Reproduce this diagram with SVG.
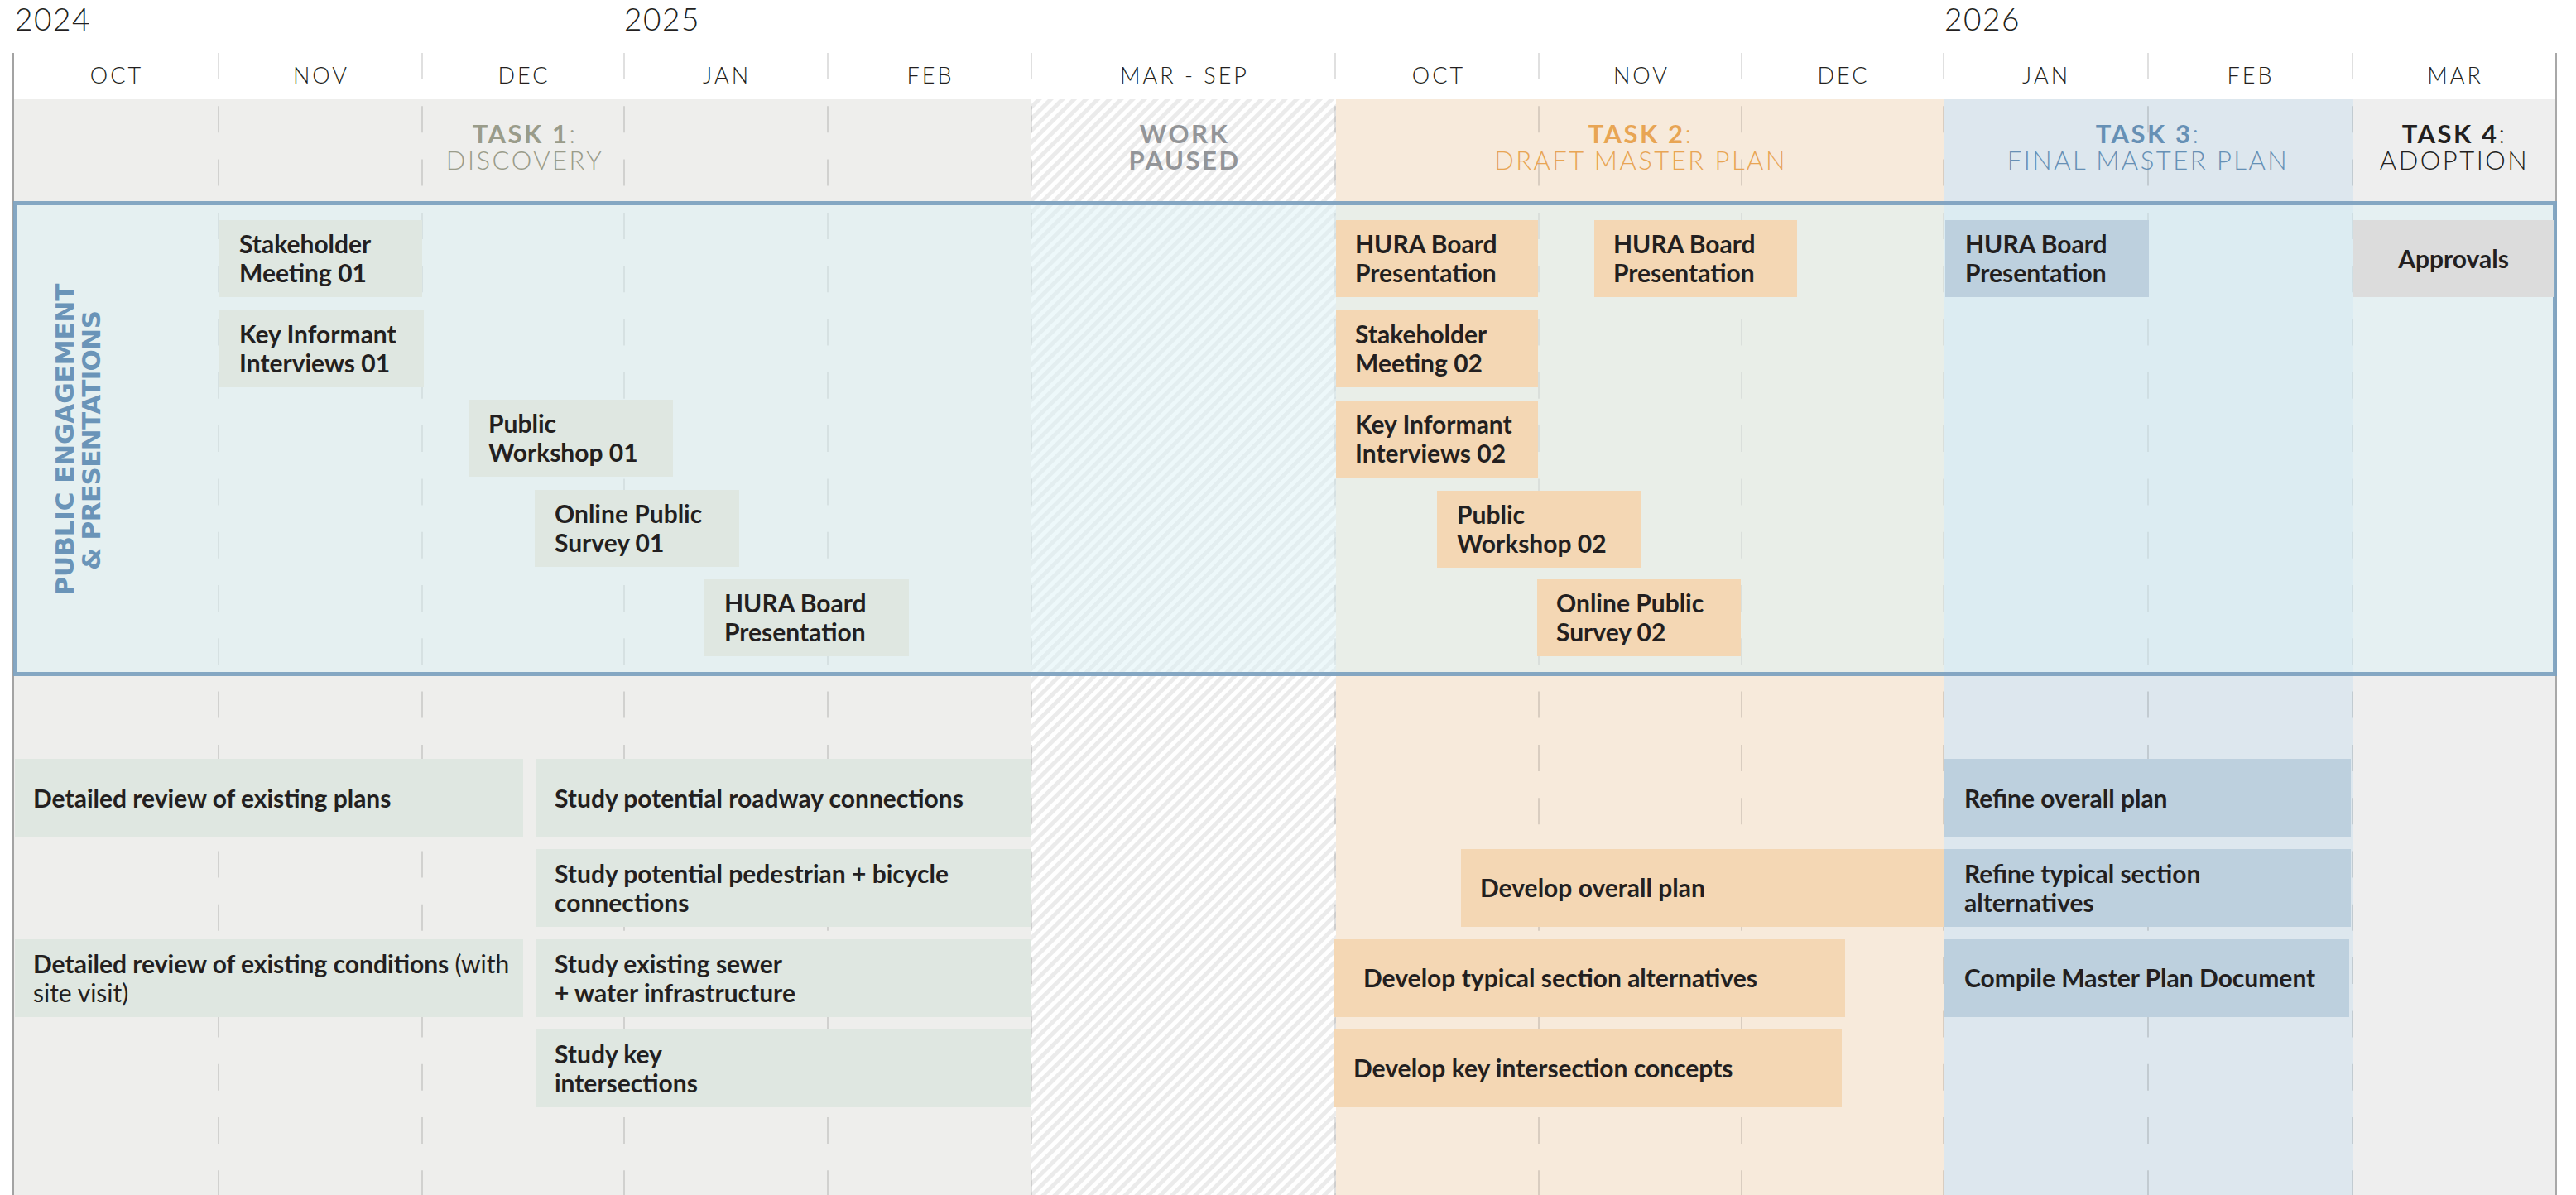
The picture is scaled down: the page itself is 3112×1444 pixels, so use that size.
<svg xmlns="http://www.w3.org/2000/svg" width="3112" height="1444" viewBox="0 0 3112 1444">
<defs>
<pattern id="hatch" width="10" height="10" patternUnits="userSpaceOnUse" patternTransform="rotate(45)">
<rect width="10" height="10" fill="#ffffff"/>
<rect width="5" height="10" fill="#ebebeb"/>
</pattern>
<style>
.yr{font-family:Lato,"Liberation Sans",sans-serif;font-weight:300;font-size:37px;fill:#231f20;letter-spacing:1.5px}
.mo{font-family:Lato,"Liberation Sans",sans-serif;font-weight:300;font-size:27px;fill:#231f20;letter-spacing:3px;text-anchor:middle}
.tk{font-family:Lato,"Liberation Sans",sans-serif;font-size:31px;letter-spacing:2.5px;text-anchor:middle;font-weight:300}
.tk .b{font-weight:700}
.sep{stroke:#000;stroke-opacity:0.12;stroke-width:2;stroke-dasharray:32 32.3}
.nt{font-family:Lato,"Liberation Sans",sans-serif;font-weight:700;font-size:30px;fill:#231f20}
.nt .r{font-weight:400}
.t1{fill:#dfe7e1}
.t2{fill:#f4d7b4}
.t3{fill:#bdd0de}
.t4{fill:#dcdcdc}
.lbl{font-family:"DejaVu Sans","Open Sans",sans-serif;font-weight:700;font-size:31px;fill:#6a94b8;text-anchor:middle}
</style>
</defs>

<!-- backgrounds -->
<rect x="0" y="0" width="3112" height="1444" fill="#ffffff"/>
<rect x="16" y="120" width="1230" height="1324" fill="#eeeeec"/>
<rect x="1246" y="120" width="368" height="1324" fill="url(#hatch)"/>
<rect x="1614" y="120" width="734" height="1324" fill="#f7eadb"/>
<rect x="2348" y="120" width="494" height="1324" fill="#dde7ee"/>
<rect x="2842" y="120" width="246" height="1324" fill="#eeeeee"/>

<!-- month separators -->
<g id="separators">
<line class="sep" x1="264" y1="64" x2="264" y2="1444"/>
<line class="sep" x1="510" y1="64" x2="510" y2="1444"/>
<line class="sep" x1="754" y1="64" x2="754" y2="1444"/>
<line class="sep" x1="1000" y1="64" x2="1000" y2="1444"/>
<line class="sep" x1="1246" y1="64" x2="1246" y2="1444"/>
<line class="sep" x1="1613" y1="64" x2="1613" y2="1444"/>
<line class="sep" x1="1859" y1="64" x2="1859" y2="1444"/>
<line class="sep" x1="2104" y1="64" x2="2104" y2="1444"/>
<line class="sep" x1="2348" y1="64" x2="2348" y2="1444"/>
<line class="sep" x1="2595" y1="64" x2="2595" y2="1444"/>
<line class="sep" x1="2842" y1="64" x2="2842" y2="1444"/>
<line x1="16" y1="64" x2="16" y2="1444" stroke="#a3a3a3" stroke-width="2"/>
<line x1="3088" y1="64" x2="3088" y2="1444" stroke="#a8a8a8" stroke-width="2"/>
</g>

<!-- years -->
<g id="years">
<text class="yr" x="18" y="37">2024</text>
<text class="yr" x="754" y="37">2025</text>
<text class="yr" x="2349" y="37">2026</text>
</g>

<!-- months -->
<g id="months">
<text class="mo" x="141" y="101">OCT</text>
<text class="mo" x="388" y="101">NOV</text>
<text class="mo" x="633" y="101">DEC</text>
<text class="mo" x="878" y="101">JAN</text>
<text class="mo" x="1124" y="101">FEB</text>
<text class="mo" x="1431" y="101">MAR - SEP</text>
<text class="mo" x="1738" y="101">OCT</text>
<text class="mo" x="1983" y="101">NOV</text>
<text class="mo" x="2227" y="101">DEC</text>
<text class="mo" x="2472" y="101">JAN</text>
<text class="mo" x="2719" y="101">FEB</text>
<text class="mo" x="2966" y="101">MAR</text>
</g>

<!-- task headers -->
<g id="task-headers">
<text class="tk" x="634" y="173" fill="#9a9c8a"><tspan class="b">TASK 1</tspan>:</text>
<text class="tk" x="634" y="205" fill="#9a9c8a">DISCOVERY</text>
<text class="tk" x="1431" y="173" fill="#939598"><tspan class="b">WORK</tspan></text>
<text class="tk" x="1431" y="205" fill="#939598"><tspan class="b">PAUSED</tspan></text>
<text class="tk" x="1982" y="173" fill="#e8a554"><tspan class="b">TASK 2</tspan>:</text>
<text class="tk" x="1982" y="205" fill="#e8a554">DRAFT MASTER PLAN</text>
<text class="tk" x="2595" y="173" fill="#6690b5"><tspan class="b">TASK 3</tspan>:</text>
<text class="tk" x="2595" y="205" fill="#6690b5">FINAL MASTER PLAN</text>
<text class="tk" x="2965" y="173" fill="#231f20"><tspan class="b">TASK 4</tspan>:</text>
<text class="tk" x="2965" y="205" fill="#231f20">ADOPTION</text>
</g>

<!-- public engagement band -->
<g id="engagement-band">
<rect x="18.5" y="245.5" width="3068" height="569" fill="#dcf2f6" fill-opacity="0.5" stroke="#7ea2c0" stroke-opacity="0.95" stroke-width="5"/>
<text class="lbl" transform="translate(89,531) rotate(-90)" textLength="377" lengthAdjust="spacing">PUBLIC ENGAGEMENT</text>
<text class="lbl" transform="translate(121,532) rotate(-90)" textLength="314" lengthAdjust="spacing">&amp; PRESENTATIONS</text>
</g>

<!-- engagement nodes -->
<g id="n-stakeholder-01"><rect class="t1" x="265" y="266" width="245" height="93"/><text class="nt"><tspan x="289" y="306">Stakeholder</tspan><tspan x="289" y="341">Meeting 01</tspan></text></g>
<g id="n-kii-01"><rect class="t1" x="265" y="375" width="247" height="93"/><text class="nt"><tspan x="289" y="415">Key Informant</tspan><tspan x="289" y="450">Interviews 01</tspan></text></g>
<g id="n-workshop-01"><rect class="t1" x="567" y="483" width="246" height="93"/><text class="nt"><tspan x="590" y="523">Public</tspan><tspan x="590" y="558">Workshop 01</tspan></text></g>
<g id="n-survey-01"><rect class="t1" x="646" y="592" width="247" height="93"/><text class="nt"><tspan x="670" y="632">Online Public</tspan><tspan x="670" y="667">Survey 01</tspan></text></g>
<g id="n-hura-t1"><rect class="t1" x="851" y="700" width="247" height="93"/><text class="nt"><tspan x="875" y="740">HURA Board</tspan><tspan x="875" y="775">Presentation</tspan></text></g>

<g id="n-hura-t2a"><rect class="t2" x="1614" y="266" width="244" height="93"/><text class="nt"><tspan x="1637" y="306">HURA Board</tspan><tspan x="1637" y="341">Presentation</tspan></text></g>
<g id="n-hura-t2b"><rect class="t2" x="1926" y="266" width="245" height="93"/><text class="nt"><tspan x="1949" y="306">HURA Board</tspan><tspan x="1949" y="341">Presentation</tspan></text></g>
<g id="n-stakeholder-02"><rect class="t2" x="1614" y="375" width="244" height="93"/><text class="nt"><tspan x="1637" y="415">Stakeholder</tspan><tspan x="1637" y="450">Meeting 02</tspan></text></g>
<g id="n-kii-02"><rect class="t2" x="1614" y="484" width="244" height="93"/><text class="nt"><tspan x="1637" y="524">Key Informant</tspan><tspan x="1637" y="559">Interviews 02</tspan></text></g>
<g id="n-workshop-02"><rect class="t2" x="1736" y="593" width="246" height="93"/><text class="nt"><tspan x="1760" y="633">Public</tspan><tspan x="1760" y="668">Workshop 02</tspan></text></g>
<g id="n-survey-02"><rect class="t2" x="1857" y="700" width="246" height="93"/><text class="nt"><tspan x="1880" y="740">Online Public</tspan><tspan x="1880" y="775">Survey 02</tspan></text></g>

<g id="n-hura-t3"><rect class="t3" x="2350" y="266" width="246" height="93"/><text class="nt"><tspan x="2374" y="306">HURA Board</tspan><tspan x="2374" y="341">Presentation</tspan></text></g>
<g id="n-approvals"><rect class="t4" x="2842" y="266" width="244" height="93"/><text class="nt" x="2964" y="324" text-anchor="middle">Approvals</text></g>

<!-- task nodes -->
<g id="n-review-plans"><rect class="t1" x="18" y="917" width="614" height="94"/><text class="nt" x="40" y="976">Detailed review of existing plans</text></g>
<g id="n-roadway"><rect class="t1" x="647" y="917" width="599" height="94"/><text class="nt" x="670" y="976">Study potential roadway connections</text></g>
<g id="n-ped-bike"><rect class="t1" x="647" y="1026" width="599" height="94"/><text class="nt"><tspan x="670" y="1067">Study potential pedestrian + bicycle</tspan><tspan x="670" y="1102">connections</tspan></text></g>
<g id="n-review-conditions"><rect class="t1" x="18" y="1135" width="614" height="94"/><text class="nt"><tspan x="40" y="1176">Detailed review of existing conditions <tspan class="r">(with</tspan></tspan><tspan class="r" x="40" y="1211">site visit)</tspan></text></g>
<g id="n-sewer"><rect class="t1" x="647" y="1135" width="599" height="94"/><text class="nt"><tspan x="670" y="1176">Study existing sewer</tspan><tspan x="670" y="1211">+ water infrastructure</tspan></text></g>
<g id="n-intersections"><rect class="t1" x="647" y="1244" width="599" height="94"/><text class="nt"><tspan x="670" y="1285">Study key</tspan><tspan x="670" y="1320">intersections</tspan></text></g>

<g id="n-develop-overall"><rect class="t2" x="1765" y="1026" width="584" height="94"/><text class="nt" x="1788" y="1084">Develop overall plan</text></g>
<g id="n-develop-typical"><rect class="t2" x="1612" y="1135" width="617" height="94"/><text class="nt" x="1647" y="1193">Develop typical section alternatives</text></g>
<g id="n-develop-key"><rect class="t2" x="1612" y="1244" width="613" height="94"/><text class="nt" x="1635" y="1302">Develop key intersection concepts</text></g>

<g id="n-refine-overall"><rect class="t3" x="2349" y="917" width="491" height="94"/><text class="nt" x="2373" y="976">Refine overall plan</text></g>
<g id="n-refine-typical"><rect class="t3" x="2349" y="1026" width="491" height="94"/><text class="nt"><tspan x="2373" y="1067">Refine typical section</tspan><tspan x="2373" y="1102">alternatives</tspan></text></g>
<g id="n-compile"><rect class="t3" x="2349" y="1135" width="489" height="94"/><text class="nt" x="2373" y="1193">Compile Master Plan Document</text></g>

<g id="connectors"/>
</svg>
